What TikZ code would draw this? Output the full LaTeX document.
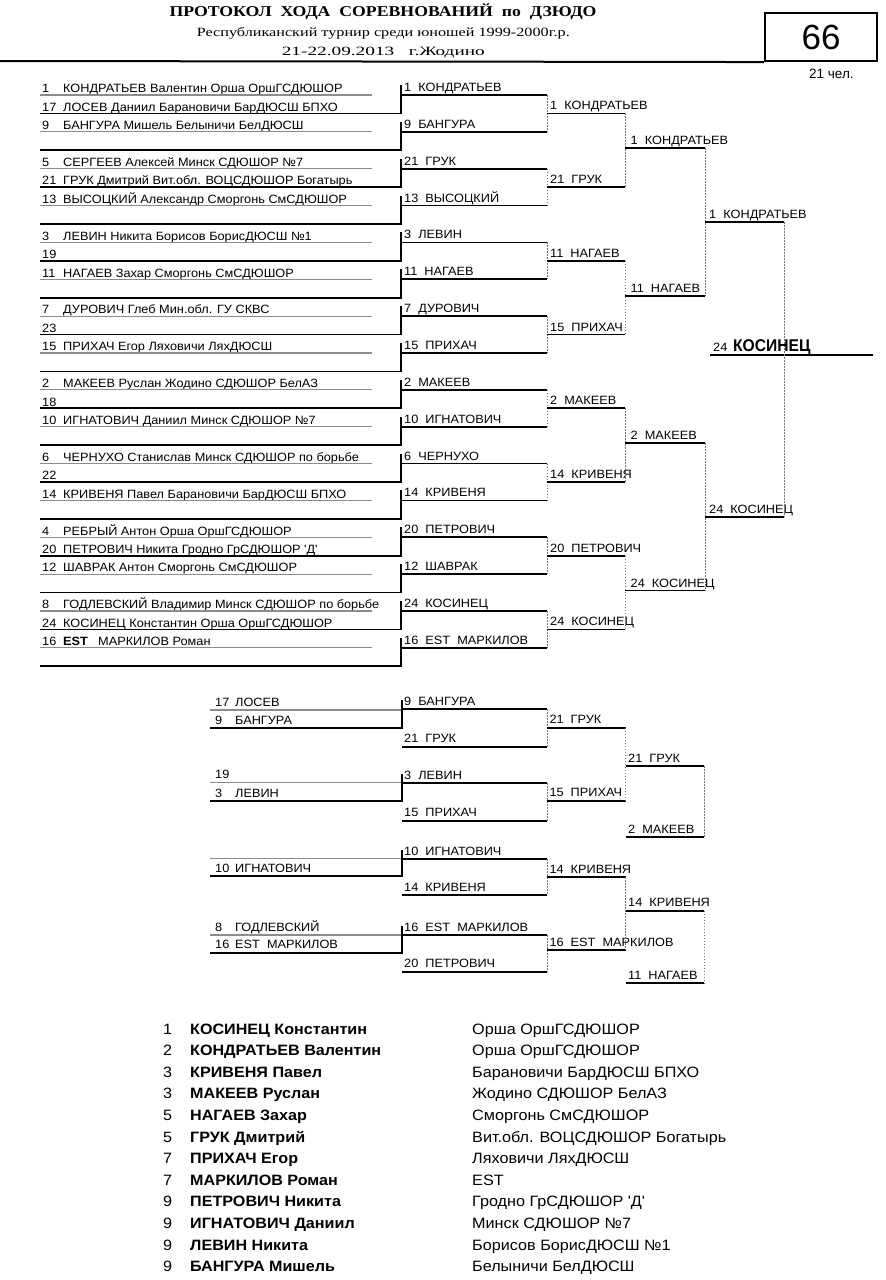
\documentclass[tikz,border=0pt]{standalone}
\usepackage{fontspec}
\usepackage{graphicx}
\setmainfont{Liberation Sans}[Ligatures=TeXOff]
\newfontfamily\serifrm{Liberation Serif}[Ligatures=TeXOff]
\newlength\calw
\newcommand\bt[1]{\scalebox{\sxb}[1]{\fontsize{12}{12}\selectfont #1}}
\newcommand\rnm[1]{\scalebox{\sxr}[1]{\fontsize{15}{15}\selectfont\bfseries #1}}
\newcommand\rcl[1]{\scalebox{\sxc}[1]{\fontsize{15}{15}\selectfont #1}}
\begin{document}
\settowidth\calw{\fontsize{12}{12}\selectfont ИГНАТОВИЧ}%
\pgfmathsetmacro\sxb{76/\calw}%
\settowidth\calw{\fontsize{15}{15}\selectfont\bfseries КОНДРАТЬЕВ Валентин}%
\pgfmathsetmacro\sxr{191/\calw}%
\settowidth\calw{\fontsize{15}{15}\selectfont Вит.обл. ВОЦСДЮШОР Богатырь}%
\pgfmathsetmacro\sxc{254/\calw}%
\settowidth\calw{\fontsize{17}{17}\selectfont\bfseries КОСИНЕЦ}%
\pgfmathsetmacro\sxf{77.4/\calw}%
\begin{tikzpicture}[x=1pt,y=-1pt,
  btx/.style={anchor=base west,inner sep=0pt},
  gl/.style={draw=black!45,line width=1.1pt},
  bl/.style={draw=black,line width=1.7pt},
  dl/.style={draw=black!55,line width=0.7pt,dash pattern=on 1.6pt off 1.4pt}]
\useasboundingbox (0,0) rectangle (886,1280);

% ---------- header ----------
\node[anchor=base,inner sep=0pt] (title) at (383,16.7)
  {\resizebox{427pt}{\height}{\serifrm\bfseries\fontsize{15}{15}\selectfont ПРОТОКОЛ\ \ ХОДА\ \ СОРЕВНОВАНИЙ\ \ по\ \ ДЗЮДО}};
\node[anchor=base,inner sep=0pt] (sub1) at (383.3,36)
  {\resizebox{373pt}{\height}{\serifrm\fontsize{12.6}{13}\selectfont Республиканский турнир среди юношей 1999-2000г.р.}};
\node[anchor=base,inner sep=0pt] (sub2) at (383.3,55)
  {\resizebox{203pt}{\height}{\serifrm\fontsize{12.6}{13}\selectfont 21-22.09.2013\ \ \ г.Жодино}};
\node[draw,line width=2pt,minimum width=112.3pt,minimum height=47.7pt,inner sep=0pt,
  font=\fontsize{35}{35}\selectfont] (box) at (821.1,37.2) {66};
\coordinate (hl) at (0,61);
\draw[line width=2pt] (hl) -- (box.south west);
\node[btx,font=\fontsize{13.5}{14}\selectfont] (cnt) at (809,78.5) {21 чел.};

% ---------- main bracket, first column ----------
\foreach \ri/\nm/\tx in {
0/1/{КОНДРАТЬЕВ Валентин Орша ОршГСДЮШОР},
1/17/{ЛОСЕВ Даниил Барановичи БарДЮСШ БПХО},
2/9/{БАНГУРА Мишель Белыничи БелДЮСШ},
4/5/{СЕРГЕЕВ Алексей Минск СДЮШОР №7},
5/21/{ГРУК Дмитрий Вит.обл. ВОЦСДЮШОР Богатырь},
6/13/{ВЫСОЦКИЙ Александр Сморгонь СмСДЮШОР},
8/3/{ЛЕВИН Никита Борисов БорисДЮСШ №1},
9/19/{},
10/11/{НАГАЕВ Захар Сморгонь СмСДЮШОР},
12/7/{ДУРОВИЧ Глеб Мин.обл. ГУ СКВС},
13/23/{},
14/15/{ПРИХАЧ Егор Ляховичи ЛяхДЮСШ},
16/2/{МАКЕЕВ Руслан Жодино СДЮШОР БелАЗ},
17/18/{},
18/10/{ИГНАТОВИЧ Даниил Минск СДЮШОР №7},
20/6/{ЧЕРНУХО Станислав Минск СДЮШОР по борьбе},
21/22/{},
22/14/{КРИВЕНЯ Павел Барановичи БарДЮСШ БПХО},
24/4/{РЕБРЫЙ Антон Орша ОршГСДЮШОР},
25/20/{ПЕТРОВИЧ Никита Гродно ГрСДЮШОР 'Д'},
26/12/{ШАВРАК Антон Сморгонь СмСДЮШОР},
28/8/{ГОДЛЕВСКИЙ Владимир Минск СДЮШОР по борьбе},
29/24/{КОСИНЕЦ Константин Орша ОршГСДЮШОР},
30/16/{\textbf{EST}}}
{
  \pgfmathsetmacro\yy{95+18.43*\ri-2.2}
  \node[btx] (sd\ri) at (42,\yy) {\bt{\nm}};
  \node[btx] (nm\ri) at (63,\yy) {\bt{\tx}};
}
\node[btx] (nm30b) at (98,95+18.43*30-2.2) {\bt{МАРКИЛОВ Роман}};

% lines of first column and second round
\foreach \k/\lab in {0/{1\ \ КОНДРАТЬЕВ},1/{9\ \ БАНГУРА},2/{21\ \ ГРУК},3/{13\ \ ВЫСОЦКИЙ},
  4/{3\ \ ЛЕВИН},5/{11\ \ НАГАЕВ},6/{7\ \ ДУРОВИЧ},7/{15\ \ ПРИХАЧ},
  8/{2\ \ МАКЕЕВ},9/{10\ \ ИГНАТОВИЧ},10/{6\ \ ЧЕРНУХО},11/{14\ \ КРИВЕНЯ},
  12/{20\ \ ПЕТРОВИЧ},13/{12\ \ ШАВРАК},14/{24\ \ КОСИНЕЦ},15/{16\ \ EST\ \ МАРКИЛОВ}}
{
  \pgfmathsetmacro\yu{95+36.86*\k}
  \pgfmathsetmacro\yl{\yu+18.43}
  \coordinate (ga\k) at (40,\yu);  \coordinate (gb\k) at (372,\yu);
  \draw[gl] (ga\k) -- (gb\k);
  \coordinate (ba\k) at (40,\yl);  \coordinate (bb\k) at (401,\yl);
  \coordinate (tk\k) at (401,\yu-10);
  \draw[bl] (ba\k) -- (bb\k) -- (tk\k);
  \coordinate (m2s\k) at (402,\yu); \coordinate (m2e\k) at (547,\yu);
  \draw[bl] (m2s\k) -- (m2e\k);
  \node[btx] (m2l\k) at (404,\yu-3.5) {\bt{\lab}};
}
\foreach \j in {0,...,7}{
  \pgfmathtruncatemacro\p{2*\j}\pgfmathtruncatemacro\q{2*\j+1}
  \draw[dl] (m2e\p) -- (m2e\q);
}
% third round
\foreach \j/\lab in {0/{1\ \ КОНДРАТЬЕВ},1/{21\ \ ГРУК},2/{11\ \ НАГАЕВ},3/{15\ \ ПРИХАЧ},
  4/{2\ \ МАКЕЕВ},5/{14\ \ КРИВЕНЯ},6/{20\ \ ПЕТРОВИЧ},7/{24\ \ КОСИНЕЦ}}
{
  \pgfmathsetmacro\yv{113.43+73.72*\j}
  \coordinate (m3s\j) at (547,\yv); \coordinate (m3e\j) at (625,\yv);
  \draw[bl] (m3s\j) -- (m3e\j);
  \node[btx] (m3l\j) at (550,\yv-3.5) {\bt{\lab}};
}
\foreach \j in {0,...,3}{
  \pgfmathtruncatemacro\p{2*\j}\pgfmathtruncatemacro\q{2*\j+1}
  \draw[dl] (m3e\p) -- (m3e\q);
}
% fourth round
\foreach \j/\lab in {0/{1\ \ КОНДРАТЬЕВ},1/{11\ \ НАГАЕВ},2/{2\ \ МАКЕЕВ},3/{24\ \ КОСИНЕЦ}}
{
  \pgfmathsetmacro\yv{148.3+147.44*\j}
  \coordinate (m4s\j) at (625,\yv); \coordinate (m4e\j) at (705,\yv);
  \draw[bl] (m4s\j) -- (m4e\j);
  \node[btx] (m4l\j) at (630.5,\yv-3.5) {\bt{\lab}};
}
\draw[dl] (m4e0) -- (m4e1);
\draw[dl] (m4e2) -- (m4e3);
% fifth round
\foreach \j/\yv/\lab in {0/222/{1\ \ КОНДРАТЬЕВ},1/516.9/{24\ \ КОСИНЕЦ}}
{
  \coordinate (m5s\j) at (705,\yv); \coordinate (m5e\j) at (784,\yv);
  \draw[bl] (m5s\j) -- (m5e\j);
  \node[btx] (m5l\j) at (709,\yv-3.5) {\bt{\lab}};
}
% final
\coordinate (fa) at (710,355); \coordinate (fb) at (873,355);
\draw[bl] (fa) -- (fb);
\draw[dl] (m5e0) -- (m5e1);
\node[btx] (fn) at (713,351.7) {\bt{24}};
\node[btx] (fw) at (733,351.7) {\scalebox{\sxf}[1]{\fontsize{17}{17}\selectfont\bfseries КОСИНЕЦ}};

% ---------- repechage ----------
\foreach \k/\gy/\by/\ty in {0/710/728.3/700.3,1/782.7/801/774.3,2/858.3/876/850.3,3/935/952.7/926}
{
  \coordinate (rga\k) at (210,\gy); \coordinate (rgb\k) at (401.7,\gy);
  \draw[gl] (rga\k) -- (rgb\k);
  \coordinate (rba\k) at (210,\by); \coordinate (rbb\k) at (401.7,\by);
  \coordinate (rtk\k) at (401.7,\ty);
  \draw[bl] (rba\k) -- (rbb\k) -- (rtk\k);
}
\foreach \ri/\yy/\nm/\tx in {0/710/17/ЛОСЕВ,1/728.3/9/БАНГУРА,2/782.7/19/{},3/801/3/ЛЕВИН,
  4/876/10/ИГНАТОВИЧ,5/935/8/ГОДЛЕВСКИЙ,6/952.7/16/{EST\ \ МАРКИЛОВ}}
{
  \node[btx] (rsd\ri) at (215,\yy-4) {\bt{\nm}};
  \node[btx] (rnm\ri) at (235,\yy-4) {\bt{\tx}};
}
\foreach \k/\yv/\lab in {0/709.3/{9\ \ БАНГУРА},1/746.7/{21\ \ ГРУК},2/783.3/{3\ \ ЛЕВИН},
  3/820.7/{15\ \ ПРИХАЧ},4/859.3/{10\ \ ИГНАТОВИЧ},5/895/{14\ \ КРИВЕНЯ},
  6/935/{16\ \ EST\ \ МАРКИЛОВ},7/971.7/{20\ \ ПЕТРОВИЧ}}
{
  \coordinate (p2s\k) at (402,\yv); \coordinate (p2e\k) at (547.3,\yv);
  \draw[bl] (p2s\k) -- (p2e\k);
  \node[btx] (p2l\k) at (404,\yv-3.8) {\bt{\lab}};
}
\foreach \j in {0,...,3}{
  \pgfmathtruncatemacro\p{2*\j}\pgfmathtruncatemacro\q{2*\j+1}
  \draw[dl] (p2e\p) -- (p2e\q);
}
\foreach \k/\yv/\lab in {0/727.7/{21\ \ ГРУК},1/800.7/{15\ \ ПРИХАЧ},2/877.3/{14\ \ КРИВЕНЯ},
  3/950/{16\ \ EST\ \ МАРКИЛОВ}}
{
  \coordinate (p3s\k) at (547.3,\yv); \coordinate (p3e\k) at (625.7,\yv);
  \draw[bl] (p3s\k) -- (p3e\k);
  \node[btx] (p3l\k) at (549.3,\yv-3.8) {\bt{\lab}};
}
\draw[dl] (p3e0) -- (p3e1);
\draw[dl] (p3e2) -- (p3e3);
\foreach \k/\yv/\lab in {0/766/{21\ \ ГРУК},1/837.3/{2\ \ МАКЕЕВ},2/910.7/{14\ \ КРИВЕНЯ},
  3/983.3/{11\ \ НАГАЕВ}}
{
  \coordinate (p4s\k) at (625.7,\yv); \coordinate (p4e\k) at (704.3,\yv);
  \draw[bl] (p4s\k) -- (p4e\k);
  \node[btx] (p4l\k) at (628,\yv-3.8) {\bt{\lab}};
}
\draw[dl] (p4e0) -- (p4e1);
\draw[dl] (p4e2) -- (p4e3);

% ---------- results ----------
\foreach \i/\pl/\nx/\cl in {
0/1/{КОСИНЕЦ Константин}/{Орша ОршГСДЮШОР},
1/2/{КОНДРАТЬЕВ Валентин}/{Орша ОршГСДЮШОР},
2/3/{КРИВЕНЯ Павел}/{Барановичи БарДЮСШ БПХО},
3/3/{МАКЕЕВ Руслан}/{Жодино СДЮШОР БелАЗ},
4/5/{НАГАЕВ Захар}/{Сморгонь СмСДЮШОР},
5/5/{ГРУК Дмитрий}/{Вит.обл. ВОЦСДЮШОР Богатырь},
6/7/{ПРИХАЧ Егор}/{Ляховичи ЛяхДЮСШ},
7/7/{МАРКИЛОВ Роман}/{EST},
8/9/{ПЕТРОВИЧ Никита}/{Гродно ГрСДЮШОР 'Д'},
9/9/{ИГНАТОВИЧ Даниил}/{Минск СДЮШОР №7},
10/9/{ЛЕВИН Никита}/{Борисов БорисДЮСШ №1},
11/9/{БАНГУРА Мишель}/{Белыничи БелДЮСШ}}
{
  \pgfmathsetmacro\yv{1034+21.6*\i}
  \node[btx] (rp\i) at (163,\yv) {\rcl{\pl}};
  \node[btx] (rn\i) at (190,\yv) {\rnm{\nx}};
  \node[btx] (rc\i) at (472,\yv) {\rcl{\cl}};
}
\end{tikzpicture}
\end{document}
